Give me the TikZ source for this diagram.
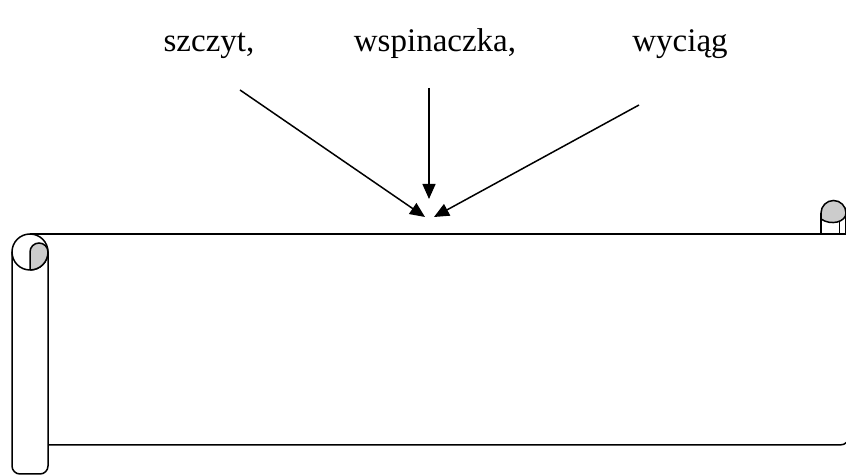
\documentclass[tikz,border=0pt]{standalone}
\usepackage{fontspec}
\setmainfont{Liberation Serif}
\usetikzlibrary{arrows.meta}
\definecolor{curlgray}{gray}{0.8}

\begin{document}
\begin{tikzpicture}[x=1pt,y=1pt,line width=1.5pt,
	word/.style={font=\fontsize{33}{40}\selectfont,anchor=base},
	pointer/.style={-{Triangle[length=15pt,width=13pt]}}]

	\useasboundingbox (0,0) rectangle (846,476);

	\node[word] (szczyt) at (209,424) {szczyt,};
	\node[word] (wspin) at (435,424) {wspinaczka,};
	\node[word] (wyciag) at (680,424) {wyciąg};

	\coordinate (from1) at (240,386);
	\coordinate (from2) at (429,388);
	\coordinate (from3) at (639,371);
	\coordinate (to1) at (425,259);
	\coordinate (to2) at (429,277);
	\coordinate (to3) at (434,259);

	\draw[pointer] (from1) -- (to1);
	\draw[pointer] (from2) -- (to2);
	\draw[pointer] (from3) -- (to3);

	% scroll
	\draw (30,242) -- (848,242);
	\draw (48,31) -- (840,31) .. controls (843,31) and (845,32) .. (847,34);
	\draw (48,224) -- (48,10) arc[start angle=0,end angle=-90,radius=8]
		-- (20,2) arc[start angle=270,end angle=180,radius=8] -- (12,224);
	\draw (30,224) circle (18);
	\filldraw[fill=curlgray] (30,206) -- (30,224) arc[start angle=180,end angle=0,radius=9]
		-- (48,224) arc[start angle=0,end angle=-90,radius=18];

	\filldraw[fill=curlgray] (821,263) arc[start angle=180,end angle=0,radius=12.5]
		.. controls (846,254) and (831,250) .. (821,257) -- cycle;
	\draw (821,242) -- (821,263);
	\draw (839.5,242) -- (839.5,255);
	\draw (845.5,242) -- (845.5,260);

\end{tikzpicture}
\end{document}
